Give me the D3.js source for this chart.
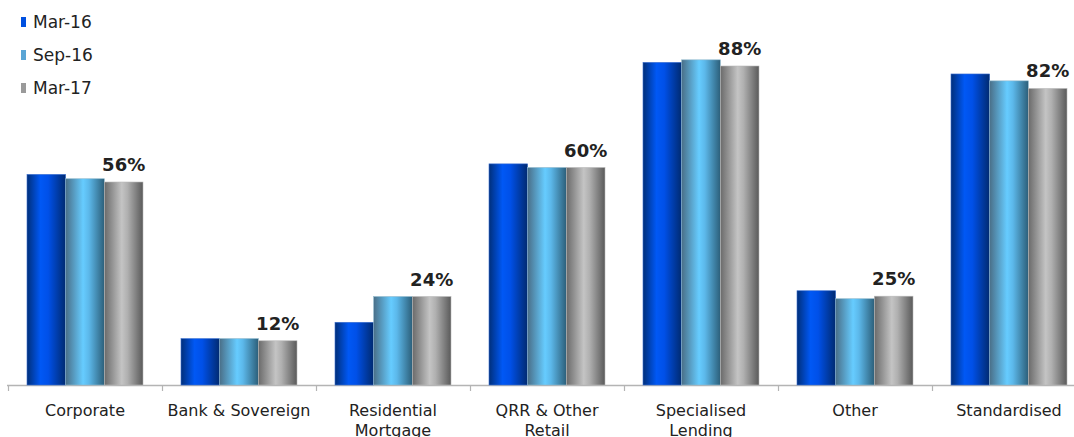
<!DOCTYPE html>
<html><head><meta charset="utf-8">
<script src="https://cdn.jsdelivr.net/npm/d3@7"></script>
<style>body{margin:0;background:#fff;}svg{display:block;}</style>
</head><body>
<svg id="chart" width="1074" height="437"></svg>
<script>
const categories = ["Corporate", "Bank & Sovereign", "Residential\nMortgage", "QRR & Other\nRetail", "Specialised\nLending", "Other", "Standardised"];
const seriesNames = ["Mar-16", "Sep-16", "Mar-17"];
const mar16 = [58.1, 12.8, 17.3, 61.0, 89.0, 26.0, 85.8];
const sep16 = [56.9, 12.8, 24.4, 60.0, 89.7, 23.8, 83.9];
const mar17 = [56.0, 12.2, 24.4, 60.0, 88.0, 24.5, 81.8];
const labelValues = [56, 12, 24, 60, 88, 25, 82];

const svg = d3.select("#chart");
const W = 1074, H = 437;
const baseY = 385;
const x0 = d3.scaleBand().domain(categories).range([8, 1086]).paddingInner(38/154).paddingOuter(19/154);
const x1 = d3.scaleBand().domain(seriesNames).range([0, x0.bandwidth()]).padding(0);
const y = d3.scaleLinear().domain([0, 100]).range([baseY, baseY - 362.5]);

const defs = svg.append("defs");
const grads = {
  "Mar-16": [["0%","#002f7a"],["35%","#0058f5"],["55%","#0050e8"],["100%","#002a70"]],
  "Sep-16": [["0%","#4a6f88"],["45%","#66ccff"],["60%","#5cb8ea"],["100%","#2c5f7a"]],
  "Mar-17": [["0%","#6a6a6a"],["45%","#c4c4c4"],["60%","#b0b0b0"],["100%","#5a5a5a"]]
};
seriesNames.forEach((s, i) => {
  const g = defs.append("linearGradient").attr("id", "g" + i).attr("x1", "0%").attr("x2", "100%").attr("y1", "0%").attr("y2", "0%");
  grads[s].forEach(([o, c]) => g.append("stop").attr("offset", o).attr("stop-color", c));
});
const legendColors = ["#0050e0", "#5aa5d5", "#9a9a9a"];

const seriesData = [mar16, sep16, mar17];
const rows = categories.map((c, ci) => ({cat: c, vals: seriesNames.map((s, si) => ({s, si, v: seriesData[si][ci]}))}));

// axis line
const axisG = svg.append("g").attr("transform", `translate(0,${baseY})`);
const xAxis = d3.axisBottom(x0).tickSize(0).tickFormat("");
axisG.call(xAxis);
axisG.select(".domain").remove();
axisG.append("line").attr("x1", 7).attr("x2", W).attr("y1", 0.5).attr("y2", 0.5).attr("stroke", "#b4b4b4").attr("stroke-width", 1.5);
const bounds = categories.map(c => x0(c) - x0.step()*x0.paddingInner()/2).concat([x0(categories[categories.length-1]) + x0.bandwidth() + x0.step()*x0.paddingInner()/2]);
axisG.selectAll(".tk").data(bounds).join("line").attr("class","tk")
  .attr("x1", d => Math.round(d)+0.5).attr("x2", d => Math.round(d)+0.5).attr("y1", 0).attr("y2", 6)
  .attr("stroke", "#b4b4b4").attr("stroke-width", 1.2);

// bars
const groups = svg.append("g").selectAll("g").data(rows).join("g")
  .attr("transform", d => `translate(${x0(d.cat)},0)`);
groups.selectAll("rect").data(d => d.vals).join("rect")
  .attr("x", d => x1(d.s))
  .attr("y", d => y(d.v))
  .attr("width", x1.bandwidth())
  .attr("height", d => baseY - y(d.v))
  .attr("fill", d => `url(#g${d.si})`)
  .attr("stroke", d => ["#3b6fd0","#8fb8cc","#b8b8b8"][d.si])
  .attr("stroke-width", 0.6);

// value labels above Mar-17
groups.append("text")
  .attr("x", x1("Mar-17") + x1.bandwidth()/2)
  .attr("y", (d, i) => y(mar17[i]) - 11)
  .attr("text-anchor", "middle")
  .attr("font-family", "DejaVu Sans, Verdana, sans-serif")
  .attr("font-weight", "bold")
  .attr("font-size", 18)
  .attr("fill", "#222")
  .text((d, i) => labelValues[i] + "%");

// category labels
svg.append("g").selectAll("text").data(categories).join("text")
  .attr("x", d => x0(d) + x0.bandwidth()/2)
  .attr("y", 416)
  .attr("text-anchor", "middle")
  .attr("font-family", "DejaVu Sans, Verdana, sans-serif")
  .attr("font-size", 16)
  .attr("fill", "#222")
  .each(function(d) {
    const lines = d.split("\n");
    d3.select(this).selectAll("tspan").data(lines).join("tspan")
      .attr("x", x0(d) + x0.bandwidth()/2)
      .attr("dy", (l, i) => i === 0 ? 0 : 20)
      .text(l => l);
  });

// legend
const leg = svg.append("g").selectAll("g").data(seriesNames).join("g")
  .attr("transform", (d, i) => `translate(0,${i*33})`);
leg.append("rect").attr("x", 21).attr("y", 17).attr("width", 5).attr("height", 10)
  .attr("fill", (d, i) => legendColors[i]);
leg.append("text").attr("x", 33).attr("y", 28)
  .attr("font-family", "DejaVu Sans, Verdana, sans-serif").attr("font-size", 17).attr("fill", "#222")
  .text(d => d);
</script>
</body></html>
